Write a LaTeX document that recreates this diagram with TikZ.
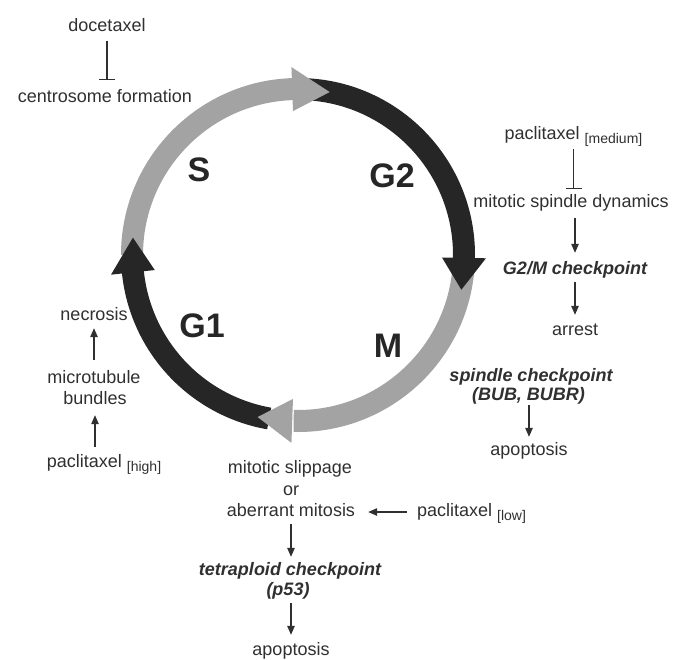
\documentclass[tikz,border=0pt]{standalone}
\usepackage{fontspec}
\setmainfont{Liberation Sans}
\usetikzlibrary{arrows.meta}
\definecolor{ringgray}{HTML}{A3A3A3}
\definecolor{ringdark}{HTML}{262626}
\definecolor{ink}{HTML}{303030}
\newcommand{\drugconc}[1]{\raisebox{-4pt}{\fontsize{14}{14}\selectfont #1}}
\begin{document}
\begin{tikzpicture}[x=1pt,y=-1pt,
  lbl/.style={anchor=base, inner sep=0pt, text height=13pt, text depth=4pt,
    font=\fontsize{18}{20}\selectfont, text=ink},
  lblb/.style={lbl, font=\fontsize{18}{20}\selectfont\bfseries\itshape},
  phase/.style={inner sep=0pt, font=\fontsize{34}{36}\selectfont\bfseries, text=ringdark},
  arr/.style={draw=ink, line width=1.2pt, -{Triangle[length=9pt,width=7.5pt]}},
  inh/.style={draw=ink, line width=1.2pt, -{Bar[width=16pt]}},
  ringarc/.style={line width=22pt}
]
\useasboundingbox (0,0) rectangle (679,659);
\fill[white] (0,0) rectangle (679,659);

% ---- cell cycle ring ----
\begin{scope}[shift={(298,255)}, yscale=-1]
  % bodies
  \draw[ringarc, ringgray] (180:166) arc[start angle=180, end angle=91.5, radius=166];
  \draw[ringarc, ringdark] (88:166) arc[start angle=88, end angle=-1.5, radius=166];
  \draw[ringarc, ringgray] (-3:166) arc[start angle=-3, end angle=-91.5, radius=166];
  \draw[ringarc, ringdark] (260:166) arc[start angle=260, end angle=185.5, radius=166];
  % heads
  \fill[ringgray] (92:188) -- (79:166) -- (92:144) -- cycle;
  \fill[ringdark] (-1:188) -- (-12:167) -- (-1:144) -- cycle;
  \fill[ringgray] (-92:188) -- (-104:167) -- (-92:144) -- cycle;
  \fill[ringdark] (186:188) -- (174:166) -- (186:144) -- cycle;
\end{scope}

\node[phase] (S) at (199,170) {S};
\node[phase] (G2) at (392,176) {G2};
\node[phase] (G1) at (202,326) {G1};
\node[phase] (M) at (388,346) {M};

% ---- texts ----
\node[lbl] (doc) at (107,31) {docetaxel};
\node[lbl] (centro) at (105,102) {centrosome formation};

\node[lbl] (pmed) at (573.5,139) {paclitaxel \drugconc{[medium]}};
\node[lbl] (msd) at (571,207) {mitotic spindle dynamics};
\node[lblb] (g2m) at (575,274) {G2/M checkpoint};
\node[lbl] (arrest) at (575,335) {arrest};

\node[lblb] (sc) at (531,381) {spindle checkpoint};
\node[lblb] (bubr) at (528.5,400) {(BUB, BUBR)};
\node[lbl] (apop1) at (529,455) {apoptosis};

\node[lbl] (slip) at (290,473) {mitotic slippage};
\node[lbl] (or) at (291,495) {or};
\node[lbl] (aber) at (291,516.5) {aberrant mitosis};
\node[lbl] (plow) at (471.5,516.5) {paclitaxel \drugconc{[low]}};
\node[lblb] (tet) at (290,575) {tetraploid checkpoint};
\node[lblb] (p53) at (288,595) {(p53)};
\node[lbl] (apop2) at (291,655) {apoptosis};

\node[lbl] (necro) at (94,320) {necrosis};
\node[lbl] (micro) at (94,383) {microtubule};
\node[lbl] (bund) at (95,404) {bundles};
\node[lbl] (phigh) at (104,467) {paclitaxel \drugconc{[high]}};

% ---- connectors ----
\draw[inh, shorten <=6pt, shorten >=9pt] (doc.south) -- (doc.south |- centro.north);
\draw[inh, shorten <=6pt, shorten >=5pt] (pmed.south) -- (pmed.south |- msd.north);
\draw[arr, shorten <=7pt, shorten >=8pt] (g2m.north |- msd.south) -- (g2m.north);
\draw[arr, shorten <=4pt, shorten >=7pt] (g2m.south) -- (g2m.south |- arrest.north);
\draw[arr, shorten <=1pt, shorten >=5pt] (apop1.north |- bubr.south) -- (apop1.north);
\draw[arr, shorten <=10pt, shorten >=13pt] (plow.west) -- (aber.east);
\draw[arr, shorten <=3pt, shorten >=5pt] (aber.south) -- (aber.south |- tet.north);
\draw[arr, shorten <=4pt, shorten >=7pt] (apop2.north |- p53.south) -- (apop2.north);
\draw[arr, shorten <=7pt, shorten >=7pt] (phigh.north -| bund) -- (bund.south);
\draw[arr, shorten <=10pt, shorten >=4pt] (micro.north) -- (micro.north |- necro.south);
\end{tikzpicture}
\end{document}
